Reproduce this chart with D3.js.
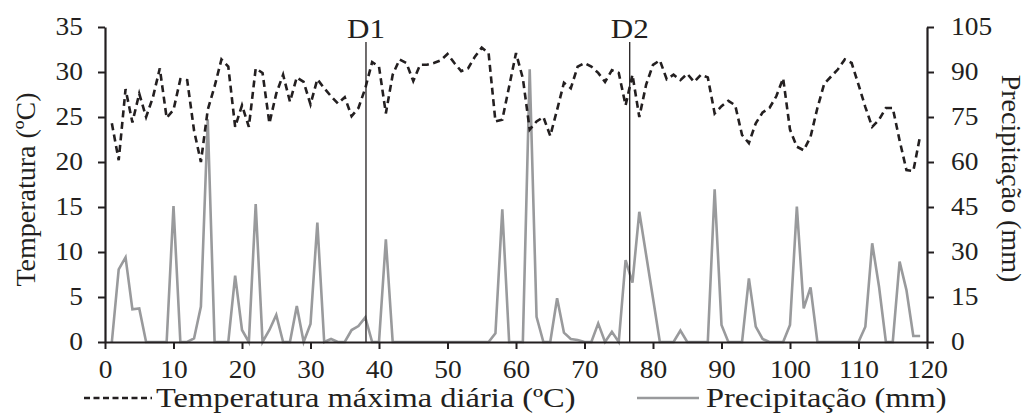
<!DOCTYPE html>
<html>
<head>
<meta charset="utf-8">
<script src="https://cdn.jsdelivr.net/npm/d3@7"></script>
<style>
  body { margin: 0; background: #fff; }
  svg text { font-family: "Liberation Serif", Tinos, "Times New Roman", Times, "DejaVu Serif", serif; fill: #231f20; }
</style>
</head>
<body>
<div id="chart"></div>
<script>
// days 1..119
var days = d3.range(1, 120);

var tempMax = [24.3, 20.2, 28.1, 24.4, 27.6, 25.0, 27.2, 30.4, 24.9, 25.8,
  29.2, 29.1, 23.5, 20.0, 25.8, 28.4, 31.4, 30.6, 23.9, 26.3,
  23.9, 30.4, 29.9, 24.3, 27.6, 29.7, 26.7, 29.4, 28.9, 26.4,
  29.2, 28.2, 27.3, 26.5, 27.2, 25.1, 26.0, 28.2, 31.1, 30.6,
  25.4, 29.7, 31.4, 31.0, 29.0, 30.8, 30.8, 31.0, 31.3, 32.0,
  31.0, 30.1, 30.4, 31.7, 32.7, 32.1, 24.5, 24.7, 28.4, 32.1,
  29.3, 23.6, 24.5, 25.0, 22.9, 25.8, 28.8, 28.2, 30.6, 31.0,
  30.6, 29.9, 28.9, 30.2, 29.9, 26.3, 29.7, 25.0, 28.6, 30.8,
  31.3, 29.2, 29.7, 29.1, 29.8, 28.9, 29.7, 29.4, 25.4, 26.2,
  26.8, 26.3, 23.0, 22.1, 24.3, 25.5, 26.0, 27.3, 29.3, 23.6,
  21.7, 21.3, 22.8, 26.0, 28.7, 29.5, 30.3, 31.4, 31.0, 28.6,
  26.1, 23.9, 24.7, 26.0, 26.0, 22.4, 19.1, 19.0, 22.9];

var precip = [0, 24.2, 28.2, 10.9, 11.2, 0, 0, 0, 0, 45.3,
  0, 0, 1.2, 11.8, 74.2, 0, 0, 0, 22.1, 4.0,
  0, 46.0, 0, 4.0, 9.0, 0, 0, 12.0, 0, 6.0,
  39.8, 0, 1.0, 0, 0, 4.0, 5.3, 8.2, 0, 0,
  34.2, 0, 0, 0, 0, 0, 0, 0, 0, 0,
  0, 0, 0, 0, 0, 0, 2.9, 44.2, 0, 0,
  0, 90.9, 8.4, 0, 0, 14.6, 3.1, 1.0, 0.7, 0,
  0, 6.2, 0, 3.4, 0, 27.3, 19.8, 43.4, 29.0, 14.6,
  0, 0, 0, 3.8, 0, 0, 0, 0, 50.9, 5.7,
  0, 0, 0, 21.2, 5.1, 1.0, 0, 0, 0, 5.7,
  45.1, 11.2, 18.2, 0, 0, 0, 0, 0, 0, 0,
  5.1, 32.9, 18.4, 0, 0, 26.8, 17.3, 2.0, 2.0];

var markers = [{label: "D1", day: 38.1}, {label: "D2", day: 76.6}];

var xTicks = d3.range(0, 121, 10);
var tempTicks = d3.range(0, 36, 5);
var precipTicks = d3.range(0, 106, 15);

var serif = "'Liberation Serif', Tinos, 'Times New Roman', Times, 'DejaVu Serif', serif";

// the original figure is a bit wider than tall, text looks stretched sideways
function stretch(sel, k) {
  sel.each(function() {
    var w = this.getComputedTextLength();
    d3.select(this)
      .attr("textLength", w * k)
      .attr("lengthAdjust", "spacingAndGlyphs");
  });
}

var margin = {top: 27, right: 104, bottom: 75, left: 105},
    width = 1031 - margin.left - margin.right,
    height = 417 - margin.top - margin.bottom;

var svg = d3.select("#chart")
  .append("svg")
    .attr("width", 1031)
    .attr("height", 417)
    .attr("font-family", serif)
  .append("g")
    .attr("transform", "translate(" + margin.left + "," + margin.top + ")");

var x = d3.scaleLinear().domain([0, 120]).range([0, width]);
var yT = d3.scaleLinear().domain([0, 35]).range([height, 0]);
var yP = d3.scaleLinear().domain([0, 105]).range([height, 0]);

// precipitation
svg.append("path")
  .datum(days)
  .attr("fill", "none")
  .attr("stroke", "#999a9c")
  .attr("stroke-width", 2.6)
  .attr("d", d3.line()
    .x(function(d) { return x(d); })
    .y(function(d, i) { return yP(precip[i]); }));

// temperature
svg.append("path")
  .datum(days)
  .attr("fill", "none")
  .attr("stroke", "#231f20")
  .attr("stroke-width", 2.6)
  .attr("stroke-dasharray", "7,4.5")
  .attr("d", d3.line()
    .x(function(d) { return x(d); })
    .y(function(d, i) { return yT(tempMax[i]); }));

// D1 / D2 lines
markers.forEach(function(m) {
  svg.append("line")
    .attr("x1", x(m.day)).attr("x2", x(m.day))
    .attr("y1", 15).attr("y2", height)
    .attr("stroke", "#231f20")
    .attr("stroke-width", 1.3);
  svg.append("text")
    .attr("class", "dlabel")
    .attr("x", x(m.day))
    .attr("y", 11)
    .attr("text-anchor", "middle")
    .attr("font-family", serif)
    .style("font-size", "27px")
    .text(m.label);
});
stretch(svg.selectAll(".dlabel"), 1.15);

// axes
var xAxis = svg.append("g")
  .attr("transform", "translate(0," + height + ")")
  .call(d3.axisBottom(x).tickValues(xTicks).tickSize(7).tickSizeOuter(0).tickPadding(12));

var yAxisL = svg.append("g")
  .call(d3.axisLeft(yT).tickValues(tempTicks).tickSize(7).tickSizeOuter(0).tickPadding(15));

var yAxisR = svg.append("g")
  .attr("transform", "translate(" + width + ",0)")
  .call(d3.axisRight(yP).tickValues(precipTicks).tickSize(7).tickSizeOuter(0).tickPadding(17));

[xAxis, yAxisL, yAxisR].forEach(function(a) {
  a.attr("font-family", serif);
  a.select(".domain").attr("stroke", "#231f20").attr("stroke-width", 2.2);
  a.selectAll(".tick line").attr("stroke", "#231f20").attr("stroke-width", 2);
  a.selectAll(".tick text")
    .attr("font-family", serif)
    .style("font-size", "24.5px")
    .attr("fill", "#231f20");
  stretch(a.selectAll(".tick text"), 1.12);
});

// Y axis label:
svg.append("text")
  .attr("transform", "translate(" + (-70) + "," + (height / 2 + 5) + ")rotate(-90)")
  .attr("text-anchor", "middle")
  .attr("font-family", serif)
  .style("font-size", "28px")
  .text("Temperatura (ºC)");

svg.append("text")
  .attr("transform", "translate(" + (width + 75) + "," + (height / 2 - 6) + ")rotate(90)")
  .attr("text-anchor", "middle")
  .attr("font-family", serif)
  .style("font-size", "28px")
  .text("Precipitação (mm)");

// legend
var legY = height + 56;
svg.append("line")
  .attr("x1", -21).attr("x2", 47)
  .attr("y1", legY).attr("y2", legY)
  .attr("stroke", "#231f20")
  .attr("stroke-width", 2.4)
  .attr("stroke-dasharray", "6,3.5");
svg.append("text")
  .attr("class", "legtext")
  .attr("x", 51).attr("y", legY + 9)
  .attr("font-family", serif)
  .style("font-size", "27.5px")
  .text("Temperatura máxima diária (ºC)");

svg.append("line")
  .attr("x1", 532).attr("x2", 594)
  .attr("y1", legY).attr("y2", legY)
  .attr("stroke", "#999a9c")
  .attr("stroke-width", 2.6);
svg.append("text")
  .attr("class", "legtext")
  .attr("x", 601).attr("y", legY + 9)
  .attr("font-family", serif)
  .style("font-size", "27.5px")
  .text("Precipitação (mm)");
stretch(svg.selectAll(".legtext"), 1.18);
</script>
</body>
</html>
